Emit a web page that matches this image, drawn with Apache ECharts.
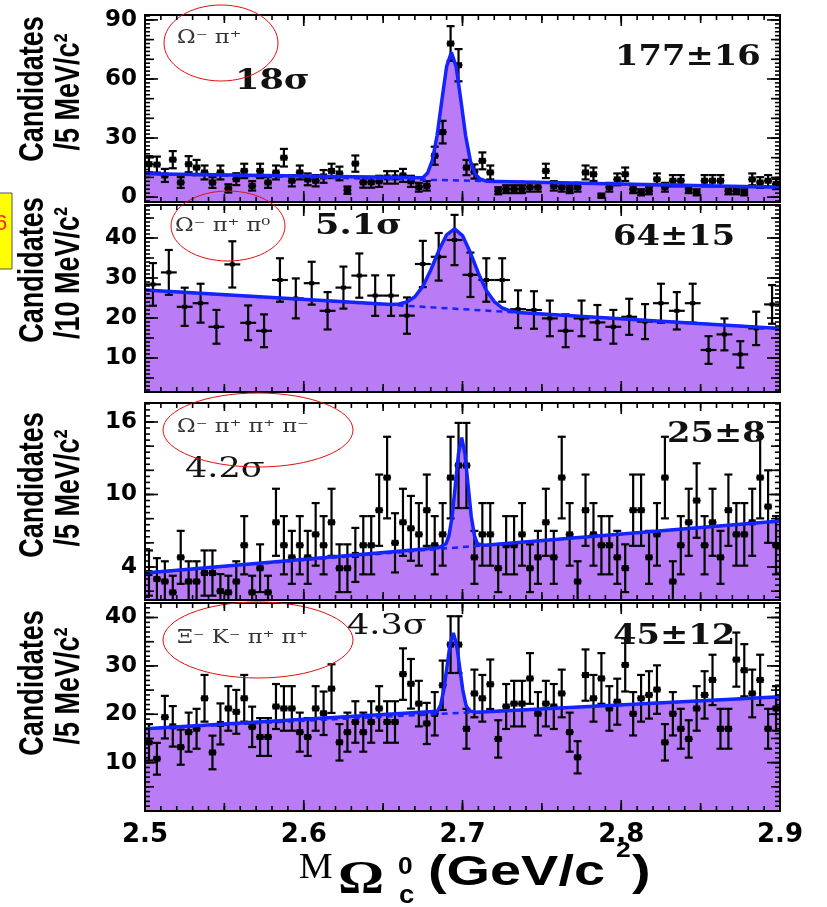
<!DOCTYPE html>
<html>
<head>
<meta charset="utf-8">
<script src="https://cdn.jsdelivr.net/npm/echarts@6/dist/echarts.min.js"></script>
<style>
html, body { margin: 0; padding: 0; background: #fff; }
#main { width: 827px; height: 907px; }
</style>
</head>
<body>
<div id="main"></div>
<script>
var massMin = 2.5, massMax = 2.9;
var xTickLabels = [2.5, 2.6, 2.7, 2.8, 2.9];

// candidates per bin (5 MeV bins, 10 MeV for pi0 channel)
var omegaPiCounts = [16.7, 16.5, 11, 19, 7.4, 16.7, 15, 12.5, 7.4, 12.5, 4.4, 9.1, 13.3, 5.7, 13.3, 7.4, 12.5, 20, 8.3, 12.5,
    9, 8.3, 10.5, 13.3, 12, 3.5, 17, 7.5, 7.5, 8, 10, 10, 11, 8, 5, 5.7, 21, 33, 78, 67,
    15, 13, 18.4, 12.5, 3.2, 4, 4, 4, 5, 5, 13.3, 5.7, 5, 4, 5, 12.5, 11.6, 0.7, 5, 9,
    11.6, 4, 2.4, 3.2, 9, 5, 8.3, 8.3, 4, 2.4, 8.3, 8.3, 8.3, 3.2, 3.2, 2.4, 9, 7.4, 8.3, 6.6];
var omegaPiPi0Counts = [28.4, 31.4, 22.8, 23.7, 17.8, 33.4, 18.8, 16.8, 29.5, 24.9, 28.7, 21.8, 27.6, 30.6, 25.6, 25.6, 20.6, 33.5, 35.3, 39.5,
    30.8, 29.5, 29.5, 22.2, 22, 19.9, 16.8, 19.9, 18.9, 17.8, 20.3, 19.1, 23.7, 21.8, 23.7, 12, 15.9, 10.9, 17.4, 23.4];
var omegaPi3Counts = [3.5, 3, 2.8, 1.9, 4.8, 2.8, 2.8, 3.5, 3.5, 2, 1.9, 2.8, 5.8, 1.9, 3.9, 1.9, 7.7, 5.8, 4.8, 5.8,
    4.8, 6.7, 5.8, 7.7, 3.9, 3.9, 5, 5.8, 5.8, 8.7, 11.4, 6, 7.7, 7.2, 6.7, 8.7, 5.8, 6.7, 11.4, 12.4,
    12.4, 4.8, 6.7, 6.7, 3.9, 5.8, 5.8, 6.7, 3.9, 4.8, 7.7, 4.8, 11.4, 6.7, 2.8, 8.7, 6.7, 5.8, 5.8, 4.8,
    3.9, 8.7, 8.7, 4.8, 6.7, 11.4, 2.8, 5.8, 7.7, 9.5, 5.8, 7.7, 4.8, 8.7, 6.7, 6.7, 7.7, 11.4, 9, 5.8];
var xiKPiPiCounts = [14.2, 10.8, 19.4, 17.5, 13.2, 16.3, 17, 23.3, 12.1, 18, 21.2, 20.5, 23.3, 17.4, 15.3, 15.3, 21.6, 21.2, 21.2, 16.3,
    15.3, 21.2, 20.2, 25.3, 14.2, 16.3, 18.4, 16.3, 18.4, 21.2, 18.4, 18.4, 28.3, 26.3, 22.2, 18.1, 20.1, 26, 34.4, 34.4,
    17, 24.3, 23.3, 26.2, 14.9, 21.6, 22.2, 22.2, 27.4, 20.1, 22.2, 21.6, 24.3, 16.3, 11.1, 28.1, 23.3, 27.4, 21.2, 22.6,
    30.2, 20.1, 23.3, 24, 25.1, 14.2, 20.1, 17, 14.9, 21.2, 24, 27.1, 17, 17, 31.3, 29.1, 24.3, 27.1, 17, 21.2];

// fit curves (signal + background) and background alone
var omegaPiFit = [[2.5, 11.8], [2.675, 9.8], [2.678, 12.2], [2.681, 18.7], [2.684, 31.3], [2.687, 49.2], [2.69, 66.4], [2.693, 73.5],
    [2.696, 66.3], [2.699, 49.1], [2.702, 31], [2.705, 18.3], [2.708, 11.7], [2.711, 9.2], [2.715, 8.1], [2.9, 5]];
var omegaPiBkg = [[2.5, 11.8], [2.9, 5]];
var omegaPiPi0Fit = [[2.5, 27], [2.655, 23.4], [2.66, 23.5], [2.665, 24], [2.67, 25.3], [2.675, 27.9], [2.68, 32], [2.685, 36.8],
    [2.69, 40.8], [2.695, 42.3], [2.7, 40.6], [2.705, 36.3], [2.71, 31.2], [2.715, 26.9], [2.72, 24.1], [2.725, 22.5],
    [2.73, 21.8], [2.735, 21.4], [2.9, 17.4]];
var omegaPiPi0Bkg = [[2.5, 27], [2.9, 17.4]];
var omegaPi3Fit = [[2.5, 3.5], [2.685, 5.6], [2.6895, 5.9], [2.6915, 6.6], [2.6935, 8.2], [2.6955, 10.8], [2.6975, 13.4], [2.6995, 14.7],
    [2.7015, 13.4], [2.7035, 10.8], [2.7055, 8.2], [2.7075, 6.6], [2.7095, 5.9], [2.714, 5.8], [2.9, 7.8]];
var omegaPi3Bkg = [[2.5, 3.5], [2.9, 7.8]];
var xiKPiPiFit = [[2.5, 17], [2.6842, 20.6], [2.6862, 21.9], [2.6882, 25], [2.6902, 29.7], [2.6922, 34.6], [2.6942, 36.8],
    [2.6962, 34.6], [2.6982, 29.7], [2.7002, 25], [2.7022, 21.9], [2.7042, 20.7], [2.709, 20.4], [2.9, 23.6]];
var xiKPiPiBkg = [[2.5, 17], [2.9, 23.6]];

var channelNames = ['Ω⁻ π⁺', 'Ω⁻ π⁺ π⁰', 'Ω⁻ π⁺ π⁺ π⁻', 'Ξ⁻ K⁻ π⁺ π⁺'];
var significances = ['18σ', '5.1σ', '4.2σ', '4.3σ'];
var yields = ['177±16', '64±15', '25±8', '45±12'];
var binLabels = ['/5 MeV/c²', '/10 MeV/c²', '/5 MeV/c²', '/5 MeV/c²'];
var yTickLabels = [[0, 30, 60, 90], [10, 20, 30, 40], [4, 10, 16], [10, 20, 30, 40]];

var PURPLE = '#b97cf6', BLUE = '#1424ff';

var panels = [
    {top: 15, height: 187, min: -2.5, max: 92.5, binW: 0.005, counts: omegaPiCounts, fit: omegaPiFit, bkg: omegaPiBkg,
        mid: 10, minor: 2, mark: 7, titleY: 89, sigBold: true,
        name: [177, 38], sig: [235, 82], yld: [615, 58], ell: [221, 43, 57, 38]},
    {top: 205, height: 187, min: 1.5, max: 48.25, binW: 0.01, counts: omegaPiPi0Counts, fit: omegaPiPi0Fit, bkg: omegaPiPi0Bkg,
        mid: 5, minor: 1, mark: 5, titleY: 270, sigBold: true,
        name: [175, 226], sig: [315, 227], yld: [613, 238], ell: [228, 226, 57, 35]},
    {top: 403, height: 197, min: 1.27, max: 17.57, binW: 0.005, counts: omegaPi3Counts, fit: omegaPi3Fit, bkg: omegaPi3Bkg,
        mid: 2, minor: 0.5, mark: 7, titleY: 485, sigBold: false,
        name: [177, 427], sig: [185, 470], yld: [667, 435], ell: [258, 430, 95, 37]},
    {top: 603, height: 208, min: 0, max: 43, binW: 0.005, counts: xiKPiPiCounts, fit: xiKPiPiFit, bkg: xiKPiPiBkg,
        mid: 5, minor: 1, mark: 7, titleY: 683, sigBold: false,
        name: [177, 638], sig: [347, 627], yld: [613, 637], ell: [258, 640, 95, 38]}
];

function steps(min, max, step) {
    var out = [];
    var k0 = Math.ceil(min / step - 1e-6), k1 = Math.floor(max / step + 1e-6);
    for (var k = k0; k <= k1; k++) out.push(+(k * step).toFixed(4));
    return out;
}

function seg(x1, y1, x2, y2, w) {
    return {type: 'line', shape: {x1: x1, y1: y1, x2: x2, y2: y2}, style: {stroke: '#000', lineWidth: w}};
}

function makeRenderer(mark) {
    return function (params, api) {
        var x = api.value(0), v = api.value(1), hw = api.value(2);
        var e = Math.sqrt(Math.max(v, 1));
        var c = api.coord([x, v]);
        var top = api.coord([x, v + e])[1], bot = api.coord([x, v - e])[1];
        var xl = api.coord([x - hw, v])[0], xr = api.coord([x + hw, v])[0];
        return {type: 'group', children: [
            seg(c[0], top, c[0], bot, 2.2),
            seg(c[0] - 4, top, c[0] + 4, top, 2.2),
            seg(c[0] - 4, bot, c[0] + 4, bot, 2.2),
            seg(xl, c[1], xr, c[1], 2.2),
            {type: 'rect', shape: {x: c[0] - mark / 2, y: c[1] - mark / 2 + 0.5, width: mark, height: mark - 1}, style: {fill: '#000'}}
        ]};
    };
}

var xMajor = xTickLabels, xMid = steps(massMin, massMax, 0.05), xMinor = steps(massMin, massMax, 0.01);
var grids = [], xAxes = [], yAxes = [], series = [], graphics = [];

panels.forEach(function (p, gi) {
    grids.push({left: 145, width: 635, top: p.top, height: p.height, show: false});

    var xLabel = gi === panels.length - 1
        ? {show: true, customValues: xTickLabels, margin: 11, color: '#000', fontFamily: 'DejaVu Sans', fontWeight: 'bold', fontSize: 26,
            formatter: function (v) { return Number(v).toFixed(1); }}
        : {show: false};
    xAxes.push({type: 'value', gridIndex: gi, position: 'bottom', min: massMin, max: massMax, silent: true,
        axisLine: {show: false, onZero: false}, axisTick: {show: false}, splitLine: {show: false}, axisLabel: xLabel});
    yAxes.push({type: 'value', gridIndex: gi, position: 'left', min: p.min, max: p.max, silent: true,
        axisLine: {show: false, onZero: false}, axisTick: {show: false}, splitLine: {show: false},
        axisLabel: {show: true, customValues: yTickLabels[gi], margin: 8, color: '#000',
            fontFamily: 'DejaVu Sans', fontWeight: 'bold', fontSize: 23}});

    series.push({type: 'line', xAxisIndex: gi, yAxisIndex: gi, data: p.fit, showSymbol: false, silent: true, z: 1,
        lineStyle: {width: 0}, areaStyle: {color: PURPLE, opacity: 1, origin: 'start'}});
    series.push({type: 'custom', xAxisIndex: gi, yAxisIndex: gi, z: 3, silent: true, clip: true,
        renderItem: makeRenderer(p.mark),
        data: p.counts.map(function (v, i) { return [massMin + p.binW * (i + 0.5), v, p.binW / 2]; })});
    series.push({type: 'line', xAxisIndex: gi, yAxisIndex: gi, data: p.bkg, showSymbol: false, silent: true, z: 4,
        lineStyle: {color: BLUE, width: 2.5, type: [6, 5]}});
    series.push({type: 'line', xAxisIndex: gi, yAxisIndex: gi, data: p.fit, showSymbol: false, silent: true, z: 5,
        lineStyle: {color: BLUE, width: 3.5}});

    // frame
    graphics.push({type: 'rect', z: 100, silent: true, shape: {x: 145, y: p.top, width: 635, height: p.height},
        style: {fill: 'none', stroke: '#000', lineWidth: 2}});
    // y titles
    graphics.push({type: 'text', z: 100, x: 33, y: p.titleY, rotation: Math.PI / 2, scaleY: 1.3, silent: true,
        style: {text: 'Candidates', fontFamily: 'Liberation Sans', fontWeight: 'bold', fontSize: 27, fill: '#000',
            align: 'center', verticalAlign: 'middle'}});
    graphics.push({type: 'text', z: 100, x: 69, y: p.titleY + 3, rotation: Math.PI / 2, scaleY: 1.3, silent: true,
        style: {text: binLabels[gi], fontFamily: 'Liberation Sans', fontWeight: 'bold', fontSize: 27, fill: '#000',
            align: 'center', verticalAlign: 'middle'}});
    // annotations
    graphics.push({type: 'text', z: 100, x: p.name[0], y: p.name[1], scaleX: 1.25, silent: true,
        style: {text: channelNames[gi], fontFamily: 'DejaVu Serif', fontSize: 18, fill: '#333',
            align: 'left', verticalAlign: 'middle'}});
    graphics.push({type: 'text', z: 100, x: p.sig[0], y: p.sig[1], scaleX: 1.3, silent: true,
        style: {text: significances[gi], fontFamily: 'DejaVu Serif', fontWeight: p.sigBold ? 'bold' : 'normal',
            fontSize: 27, fill: '#111', align: 'left', verticalAlign: 'middle'}});
    graphics.push({type: 'text', z: 100, x: p.yld[0], y: p.yld[1], scaleX: 1.25, silent: true,
        style: {text: yields[gi], fontFamily: 'DejaVu Serif', fontWeight: 'bold', fontSize: 27, fill: '#111',
            align: 'left', verticalAlign: 'middle'}});
    graphics.push({type: 'ellipse', z: 101, silent: true, shape: {cx: p.ell[0], cy: p.ell[1], rx: p.ell[2], ry: p.ell[3]},
        style: {fill: 'none', stroke: '#e01010', lineWidth: 1}});
});

// x axis title: M Omega_c^0 (GeV/c^2)
var titleParts = [
    {t: 'M', x: 299, y: 869, f: 'Liberation Serif', w: 'normal', s: 36, sx: 1.05},
    {t: 'Ω', x: 338, y: 881, f: 'Liberation Serif', w: 'bold', s: 46, sx: 1.25},
    {t: '0', x: 398, y: 867, f: 'Liberation Sans', w: 'bold', s: 24, sx: 1.1},
    {t: 'c', x: 399, y: 896, f: 'Liberation Sans', w: 'bold', s: 25, sx: 1.1},
    {t: '(GeV/c', x: 428, y: 873, f: 'Liberation Sans', w: 'bold', s: 42, sx: 1.33},
    {t: '2', x: 616, y: 851, f: 'Liberation Sans', w: 'bold', s: 22, sx: 1.2},
    {t: ')', x: 632, y: 873, f: 'Liberation Sans', w: 'bold', s: 42, sx: 1.33}
];
titleParts.forEach(function (q) {
    graphics.push({type: 'text', z: 100, x: q.x, y: q.y, scaleX: q.sx, silent: true,
        style: {text: q.t, fontFamily: q.f, fontWeight: q.w, fontSize: q.s, fill: '#000', align: 'left', verticalAlign: 'middle'}});
});

// yellow tag at the left edge
graphics.push({type: 'rect', z: 100, silent: true, shape: {x: -1, y: 193, width: 13, height: 76},
    style: {fill: '#ffff00', stroke: '#555', lineWidth: 1}});
graphics.push({type: 'text', z: 101, x: -5, y: 224, silent: true,
    style: {text: '6', fontFamily: 'Liberation Sans', fontSize: 22, fill: '#ff2020', align: 'left', verticalAlign: 'middle'}});

var myChart = echarts.init(document.getElementById('main'));
myChart.setOption({
    animation: false,
    backgroundColor: '#fff',
    grid: grids,
    xAxis: xAxes,
    yAxis: yAxes,
    series: series
});

// inward tick marks on all four sides, placed through each panel's scales (thin filled bars)
function tickBar(x, y, w, h) {
    return {type: 'rect', z: 102, silent: true, shape: {x: x, y: y, width: w, height: h}, style: {fill: '#000'}};
}
panels.forEach(function (p, gi) {
    var finder = {xAxisIndex: gi, yAxisIndex: gi};
    var yLevels = [[steps(p.min, p.max, p.minor), 5], [steps(p.min, p.max, p.mid), 9], [yTickLabels[gi], 13]];
    var xLevels = [[xMinor, 5], [xMid, 8], [xMajor, 11]];
    var corner = myChart.convertToPixel(finder, [massMin, p.min]);
    var corner2 = myChart.convertToPixel(finder, [massMax, p.max]);
    var xl = corner[0], yb = corner[1], xr = corner2[0], yt = corner2[1];
    xLevels.forEach(function (lv) {
        lv[0].forEach(function (v) {
            var x = myChart.convertToPixel(finder, [v, p.min])[0];
            graphics.push(tickBar(x - 0.8, yb - lv[1], 1.6, lv[1]));
            graphics.push(tickBar(x - 0.8, yt, 1.6, lv[1]));
        });
    });
    yLevels.forEach(function (lv) {
        lv[0].forEach(function (v) {
            var y = myChart.convertToPixel(finder, [massMin, v])[1];
            graphics.push(tickBar(xl, y - 0.8, lv[1], 1.6));
            graphics.push(tickBar(xr - lv[1], y - 0.8, lv[1], 1.6));
        });
    });
});

myChart.setOption({graphic: {elements: graphics}});
</script>
</body>
</html>
